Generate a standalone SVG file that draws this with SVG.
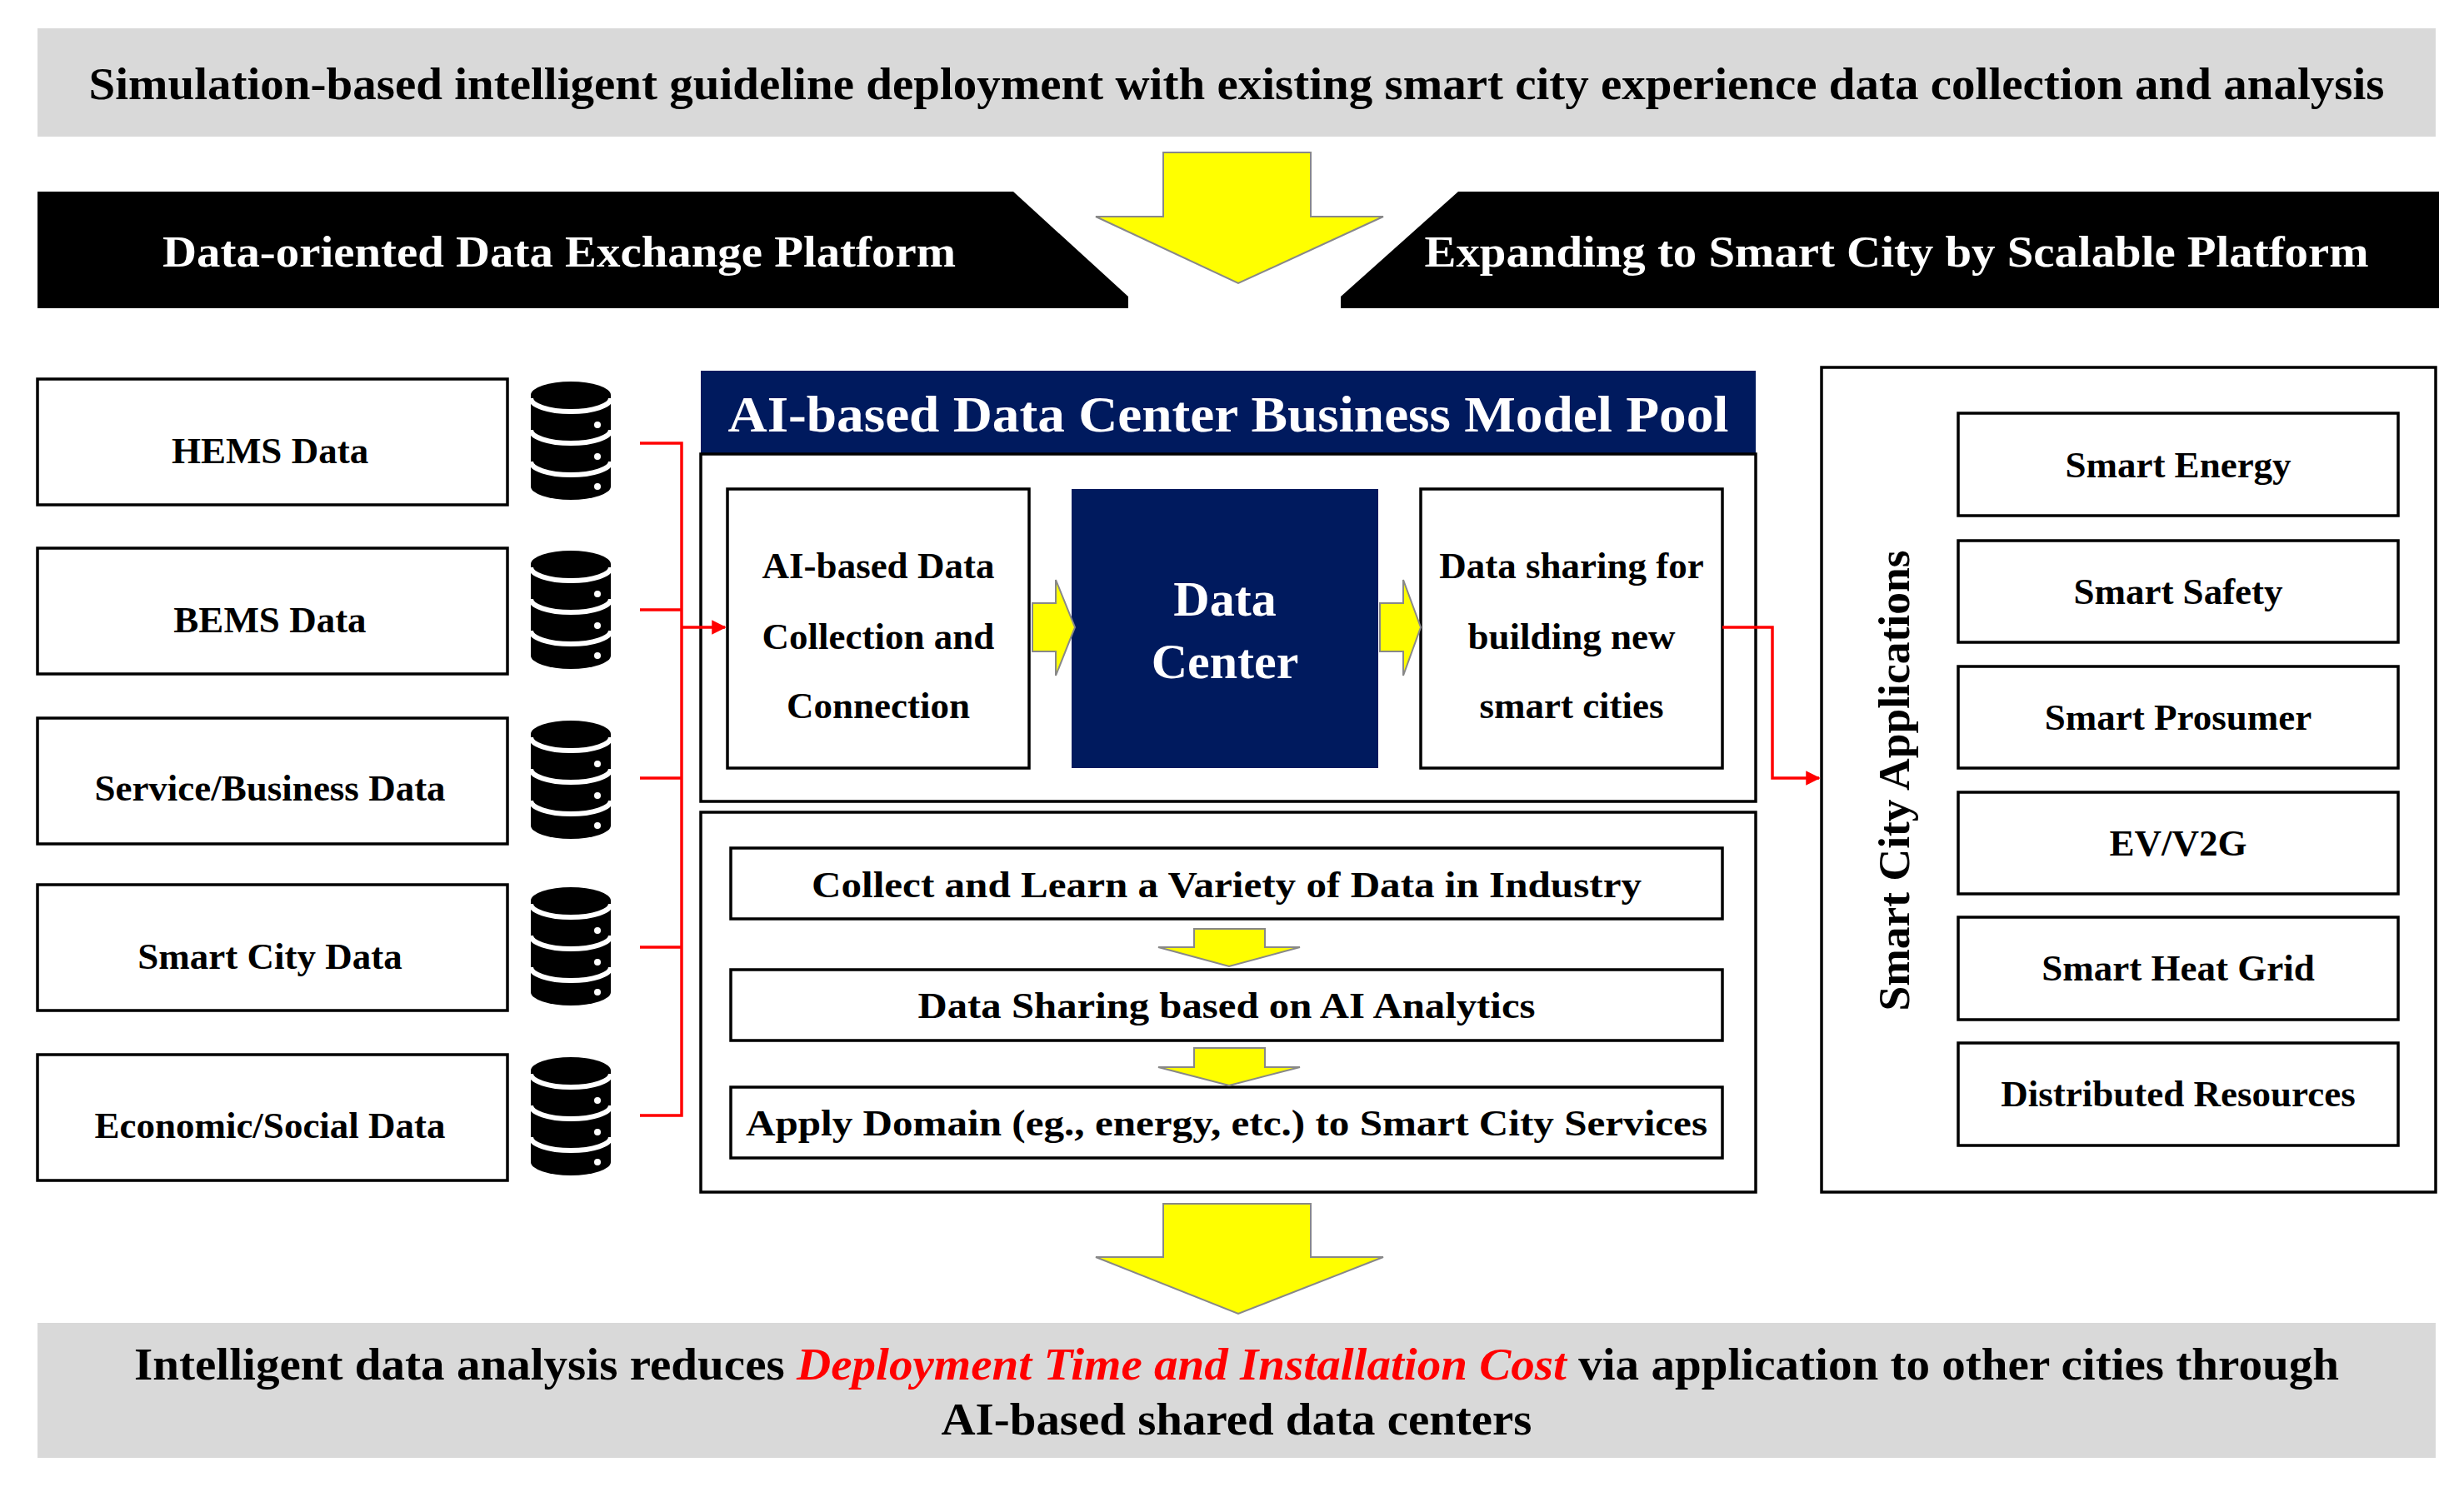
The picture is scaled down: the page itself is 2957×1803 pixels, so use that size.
<svg xmlns="http://www.w3.org/2000/svg" width="2957" height="1803" viewBox="0 0 2957 1803">
<style>
text{font-family:"Liberation Serif","Times New Roman",serif;font-weight:bold;text-anchor:middle;dominant-baseline:central}
.box{fill:#fff;stroke:#000;stroke-width:3.5}
.t40{font-size:45px}
.ya{fill:#ffff00;stroke:#888;stroke-width:2}
.red{fill:none;stroke:#ff0000;stroke-width:3.5}
</style>
<defs>
<marker id="ra" viewBox="0 0 10 10" refX="9" refY="5" markerWidth="5" markerHeight="5" orient="auto"><path d="M0,0L10,5L0,10z" fill="#ff0000"/></marker>
<g id="db">
<path d="M-48,16 A48,16 0 0 1 48,16 V126 A48,16 0 0 1 -48,126Z" fill="#000"/>
<path d="M-48,20 A48,16 0 0 0 48,20 M-48,58 A48,16 0 0 0 48,58 M-48,96 A48,16 0 0 0 48,96" fill="none" stroke="#fff" stroke-width="6"/>
<circle cx="32" cy="52" r="4" fill="#fff"/><circle cx="32" cy="90" r="4" fill="#fff"/><circle cx="32" cy="126" r="4" fill="#fff"/>
</g>
</defs>
<rect width="2957" height="1803" fill="#fff"/>
<g id="top-banner"><rect x="45" y="34" width="2878" height="130" fill="#d9d9d9"/>
<text x="1484" y="100" font-size="55" textLength="2755" lengthAdjust="spacingAndGlyphs">Simulation-based intelligent guideline deployment with existing smart city experience data collection and analysis</text></g>
<g id="platform-left"><path d="M45,230H1216L1354,356V370H45Z" fill="#000"/><text x="671" y="302" font-size="52" fill="#fff" textLength="952" lengthAdjust="spacingAndGlyphs">Data-oriented Data Exchange Platform</text></g>
<g id="platform-right"><path d="M1750,230H2927V370H1609V356Z" fill="#000"/><text x="2276" y="302" font-size="52" fill="#fff" textLength="1133" lengthAdjust="spacingAndGlyphs">Expanding to Smart City by Scalable Platform</text></g>
<g id="sources">
<g id="hems"><rect class="box" x="45" y="455" width="564" height="151"/><text class="t40" x="324" y="541">HEMS Data</text><use href="#db" x="685" y="458"/></g>
<g id="bems"><rect class="box" x="45" y="658" width="564" height="151"/><text class="t40" x="324" y="744">BEMS Data</text><use href="#db" x="685" y="661"/></g>
<g id="service"><rect class="box" x="45" y="862" width="564" height="151"/><text class="t40" x="324" y="946">Service/Business Data</text><use href="#db" x="685" y="865"/></g>
<g id="smartcity"><rect class="box" x="45" y="1062" width="564" height="151"/><text class="t40" x="324" y="1148">Smart City Data</text><use href="#db" x="685" y="1065"/></g>
<g id="econ"><rect class="box" x="45" y="1266" width="564" height="151"/><text class="t40" x="324" y="1351">Economic/Social Data</text><use href="#db" x="685" y="1269"/></g>
</g>
<g id="pool">
<rect x="841" y="445" width="1266" height="100" fill="#001a5e"/>
<text x="1474" y="497" font-size="62" fill="#fff" textLength="1201" lengthAdjust="spacingAndGlyphs">AI-based Data Center Business Model Pool</text>
<rect class="box" x="841" y="545" width="1266" height="417"/>
<rect class="box" x="841" y="975" width="1266" height="456"/>
</g>
<g id="collect"><rect class="box" x="873" y="587" width="362" height="335"/>
<text class="t40" x="1054" y="679">AI-based Data</text><text class="t40" x="1054" y="764">Collection  and</text><text class="t40" x="1054" y="847">Connection</text></g>
<g id="datacenter"><rect x="1286" y="587" width="368" height="335" fill="#001a5e"/>
<text x="1470" y="719" font-size="60" fill="#fff">Data</text><text x="1470" y="794" font-size="60" fill="#fff">Center</text></g>
<g id="sharing"><rect class="box" x="1705" y="587" width="362" height="335"/>
<text class="t40" x="1886" y="679">Data  sharing for</text><text class="t40" x="1886" y="764">building new</text><text class="t40" x="1886" y="847">smart cities</text></g>
<g id="step1"><rect class="box" x="877" y="1018" width="1190" height="85"/><text class="t40" x="1472" y="1062" textLength="996" lengthAdjust="spacingAndGlyphs">Collect  and Learn a Variety of Data in Industry</text></g>
<g id="step2"><rect class="box" x="877" y="1164" width="1190" height="85"/><text class="t40" x="1472" y="1207" textLength="741" lengthAdjust="spacingAndGlyphs">Data  Sharing based on AI Analytics</text></g>
<g id="step3"><rect class="box" x="877" y="1305" width="1190" height="85"/><text class="t40" x="1472" y="1348" textLength="1154" lengthAdjust="spacingAndGlyphs">Apply Domain (eg., energy, etc.) to Smart City Services</text></g>
<g id="apps">
<rect class="box" x="2186" y="441" width="737" height="990"/>
<text x="2273" y="937" font-size="52" transform="rotate(-90 2273 937)" textLength="553" lengthAdjust="spacingAndGlyphs">Smart City Applications</text>
<g id="app1"><rect class="box" x="2350" y="496" width="528" height="123"/><text class="t40" x="2614" y="558">Smart Energy</text></g>
<g id="app2"><rect class="box" x="2350" y="649" width="528" height="122"/><text class="t40" x="2614" y="710">Smart Safety</text></g>
<g id="app3"><rect class="box" x="2350" y="800" width="528" height="122"/><text class="t40" x="2614" y="861">Smart Prosumer</text></g>
<g id="app4"><rect class="box" x="2350" y="951" width="528" height="122"/><text class="t40" x="2614" y="1012">EV/V2G</text></g>
<g id="app5"><rect class="box" x="2350" y="1101" width="528" height="123"/><text class="t40" x="2614" y="1162">Smart Heat Grid</text></g>
<g id="app6"><rect class="box" x="2350" y="1252" width="528" height="123"/><text class="t40" x="2614" y="1313">Distributed Resources</text></g>
</g>
<g id="bottom-banner"><rect x="45" y="1588" width="2878" height="162" fill="#d9d9d9"/>
<text x="1484" y="1637" font-size="55" textLength="2646" lengthAdjust="spacingAndGlyphs">Intelligent data analysis reduces <tspan fill="#ff0000" font-style="italic">Deployment Time and Installation Cost</tspan> via application to other cities through</text>
<text x="1484" y="1703" font-size="55" textLength="709" lengthAdjust="spacingAndGlyphs">AI-based shared data centers</text></g>
<g id="connectors">
<path class="ya" d="M1396,183H1573V260H1660L1486,340L1315,260H1396Z"/>
<path class="ya" d="M1396,1445H1573V1509H1660L1486,1577L1315,1509H1396Z"/>
<path class="ya" d="M1239,724H1267V696L1290,753L1267,811V782H1239Z"/>
<path class="ya" d="M1656,724H1684V696L1705,753L1684,811V782H1656Z"/>
<path class="ya" d="M1433,1115H1518V1137H1560L1475,1160L1390,1137H1433Z"/>
<path class="ya" d="M1433,1258H1518V1281H1560L1475,1303L1390,1281H1433Z"/>
<path class="red" d="M768,532H818V1339H768M768,732H818M768,934H818M768,1137H818"/>
<path class="red" d="M818,753H870" marker-end="url(#ra)"/>
<path class="red" d="M2067,753H2127V934H2183" marker-end="url(#ra)"/>
</g>
</svg>
